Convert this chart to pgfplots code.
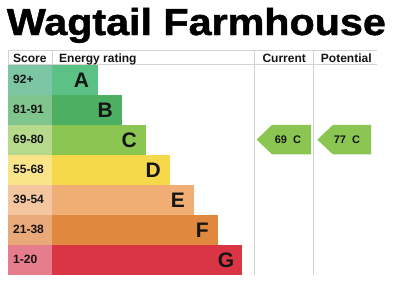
\documentclass[border=0pt]{standalone}
\usepackage{pgfplots}
\pgfplotsset{compat=1.18}
\usepackage{fontspec}
\setmainfont{Liberation Sans}
\newfontfamily\titlefont[FakeBold=1.2]{Liberation Sans Bold}
\definecolor{sA}{HTML}{7CC6A4}\definecolor{bA}{HTML}{5CC184}
\definecolor{sB}{HTML}{80C48E}\definecolor{bB}{HTML}{4CAF62}
\definecolor{sC}{HTML}{B6DA8C}\definecolor{bC}{HTML}{8CC652}
\definecolor{sD}{HTML}{F9E48A}\definecolor{bD}{HTML}{F6D84B}
\definecolor{sE}{HTML}{F3C6A0}\definecolor{bE}{HTML}{F0AE74}
\definecolor{sF}{HTML}{EAA978}\definecolor{bF}{HTML}{E0883D}
\definecolor{sG}{HTML}{E67D8C}\definecolor{bG}{HTML}{D93545}
\definecolor{grid}{HTML}{D4D4D4}
\definecolor{txt}{HTML}{151515}
\begin{document}
\begin{tikzpicture}
\begin{axis}[
  width=400pt, height=281pt, scale only axis,
  xmin=-52, xmax=348, ymin=0, ymax=281, y dir=reverse,
  hide axis, clip=false, enlargelimits=false,
  xbar, bar width=30, bar shift=0pt,
]
% score cells (negative bars from 0 to -44)
\addplot[xbar, fill=sA, draw=none] coordinates {(-44,79.6)};
\addplot[xbar, fill=sB, draw=none] coordinates {(-44,109.6)};
\addplot[xbar, fill=sC, draw=none] coordinates {(-44,139.6)};
\addplot[xbar, fill=sD, draw=none] coordinates {(-44,169.6)};
\addplot[xbar, fill=sE, draw=none] coordinates {(-44,199.6)};
\addplot[xbar, fill=sF, draw=none] coordinates {(-44,229.6)};
\addplot[xbar, fill=sG, draw=none] coordinates {(-44,259.6)};
% energy rating bars
\addplot[xbar, fill=bA, draw=none] coordinates {(46,79.6)};
\addplot[xbar, fill=bB, draw=none] coordinates {(70,109.6)};
\addplot[xbar, fill=bC, draw=none] coordinates {(94,139.6)};
\addplot[xbar, fill=bD, draw=none] coordinates {(118,169.6)};
\addplot[xbar, fill=bE, draw=none] coordinates {(142,199.6)};
\addplot[xbar, fill=bF, draw=none] coordinates {(166,229.6)};
\addplot[xbar, fill=bG, draw=none] coordinates {(190,259.6)};
% table lines
\addplot[sharp plot, draw=grid, line width=1pt, forget plot] coordinates {(-44,50) (325,50)};
\addplot[sharp plot, draw=grid, line width=1pt, forget plot] coordinates {(-44,64.3) (325,64.3)};
\addplot[sharp plot, draw=grid, line width=1pt, forget plot] coordinates {(-44,50) (-44,64.3)};
\addplot[sharp plot, draw=grid, line width=1pt, forget plot] coordinates {(0,50) (0,64.3)};
\addplot[sharp plot, draw=grid, line width=1pt, forget plot] coordinates {(202.3,50) (202.3,274.6)};
\addplot[sharp plot, draw=grid, line width=1pt, forget plot] coordinates {(261.3,50) (261.3,274.6)};
% current / potential arrows
\addplot[sharp plot, fill=bC, draw=none] coordinates {(204.7,139.7) (220,124.8) (259,124.8) (259,154.4) (220,154.4) (204.7,139.7)};
\addplot[sharp plot, fill=bC, draw=none] coordinates {(265.3,139.7) (281,124.8) (319,124.8) (319,154.4) (281,154.4) (265.3,139.7)};
% texts
\node[anchor=base west, inner sep=0pt, text=black] at (axis cs:-45.3,35)
  {\fontsize{37.5}{40}\selectfont\titlefont\scalebox{1.1}[1]{Wagtail Farmhouse}};
\begin{scope}[every node/.style={inner sep=0pt, text=txt, font=\fontsize{12}{14}\selectfont\bfseries}]
\node[anchor=base west] at (axis cs:-39,62.4) {Score};
\node[anchor=base west] at (axis cs:7,62.4) {Energy rating};
\node[anchor=base] at (axis cs:232.2,62.4) {Current};
\node[anchor=base] at (axis cs:294.3,62.4) {Potential};
\node[anchor=west] at (axis cs:-39,79.6) {92+};
\node[anchor=west] at (axis cs:-39,109.6) {81-91};
\node[anchor=west] at (axis cs:-39,139.6) {69-80};
\node[anchor=west] at (axis cs:-39,169.6) {55-68};
\node[anchor=west] at (axis cs:-39,199.6) {39-54};
\node[anchor=west] at (axis cs:-39,229.6) {21-38};
\node[anchor=west] at (axis cs:-39,259.6) {1-20};
\end{scope}
\begin{scope}[every node/.style={inner sep=0pt, text=txt, anchor=east, font=\fontsize{21}{24}\selectfont\bfseries}]
\node at (axis cs:37.3,79.8) {A};
\node at (axis cs:61,109.8) {B};
\node at (axis cs:85,139.8) {C};
\node at (axis cs:109,169.8) {D};
\node at (axis cs:133,199.8) {E};
\node at (axis cs:157,229.8) {F};
\node at (axis cs:182.3,259.8) {G};
\end{scope}
\begin{scope}[every node/.style={inner sep=0pt, text=txt, font=\fontsize{11}{13}\selectfont\bfseries}]
\node at (axis cs:236,139.7) {69\ \ C};
\node at (axis cs:295,139.7) {77\ \ C};
\end{scope}
\end{axis}
\path (current axis.south west) rectangle (current axis.north east);
\end{tikzpicture}
\end{document}
